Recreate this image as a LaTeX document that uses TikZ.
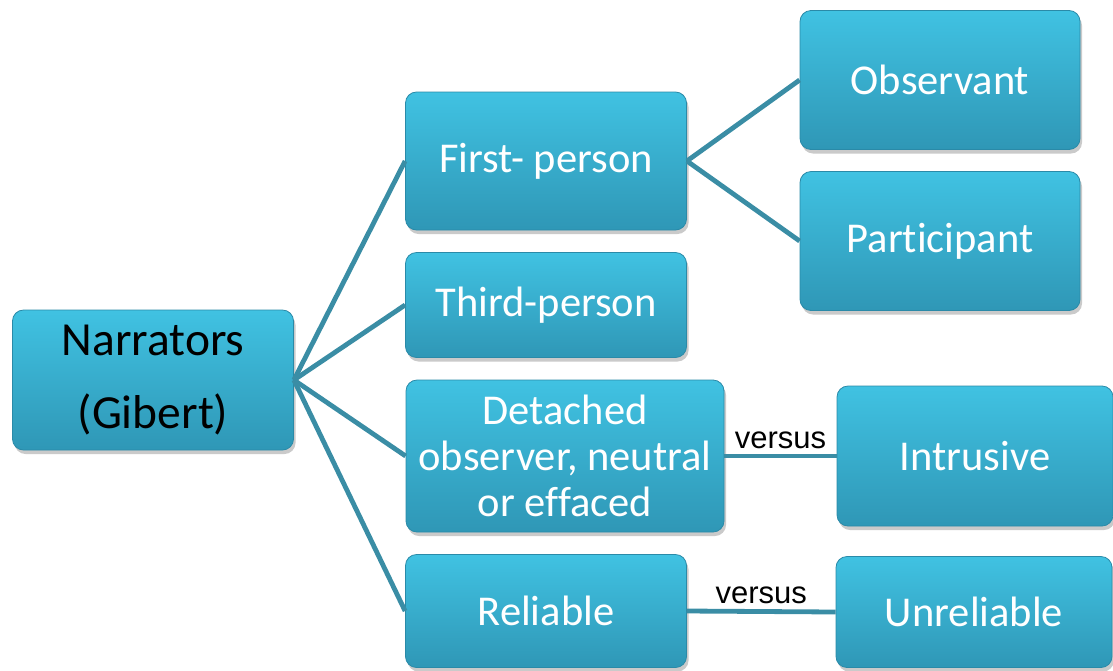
\documentclass[tikz,border=0pt]{standalone}
\usepackage{fontspec}
\setmainfont{Carlito}[Ligatures={NoCommon}]
\newfontfamily\arialf{Liberation Sans}
\usetikzlibrary{shadows}
\definecolor{boxtop}{HTML}{40C2E2}
\definecolor{boxbot}{HTML}{2F97B6}
\definecolor{boxedge}{HTML}{2A8AA8}
\definecolor{linkc}{HTML}{3A8DA5}
\tikzset{
  box/.style={rounded corners=11pt, top color=boxtop, bottom color=boxbot,
    draw=boxedge, line width=0.8pt, inner sep=0pt, align=center,
    font=\fontsize{42.5}{46}\selectfont, text=white,
    drop shadow={shadow xshift=2pt, shadow yshift=-4pt, opacity=0.35, fill=black!60}},
  link/.style={draw=linkc, line width=4.8pt},
  vs/.style={font=\arialf\fontsize{31}{33}\selectfont, text=black, inner sep=0pt}
}
\begin{document}
\begin{tikzpicture}[x=1pt,y=-1pt]
\useasboundingbox (0,0) rectangle (1113,670);
% nodes (center, width, height)
\node[box, minimum width=281pt, minimum height=140pt, text=black,
  font=\fontsize{47.5}{73}\selectfont] (nar) at (153,380) {Narrators\\(Gibert)};
\node[box, minimum width=281pt, minimum height=138pt] (first) at (546,161) {First- person};
\node[box, minimum width=280pt, minimum height=139pt] (obs) at (940,80) {Observant};
\node[box, minimum width=280pt, minimum height=139pt] (part) at (940,241) {Participant};
\node[box, minimum width=281pt, minimum height=105pt] (third) at (546,305) {Third-person};
\node[box, minimum width=318pt, minimum height=152pt] (det) at (565,456) {Detached\\observer, neutral\\or effaced};
\node[box, minimum width=276pt, minimum height=140pt] (intr) at (975,456) {Intrusive};
\node[box, minimum width=281pt, minimum height=113pt] (rel) at (546,611) {Reliable};
\node[box, minimum width=276pt, minimum height=111pt] (unrel) at (974,612) {Unreliable};
% connectors
\path[link] (nar.east) -- (first.west);
\path[link] (nar.east) -- (third.west);
\path[link] (nar.east) -- (det.west);
\path[link] (nar.east) -- (rel.west);
\path[link] (first.east) -- (obs.west);
\path[link] (first.east) -- (part.west);
\path[link] (det.east) -- node[vs, above=5pt] (v1) {versus} (intr.west);
\path[link] (rel.east) -- node[vs, above=5pt] (v2) {versus} (unrel.west);
\end{tikzpicture}
\end{document}
